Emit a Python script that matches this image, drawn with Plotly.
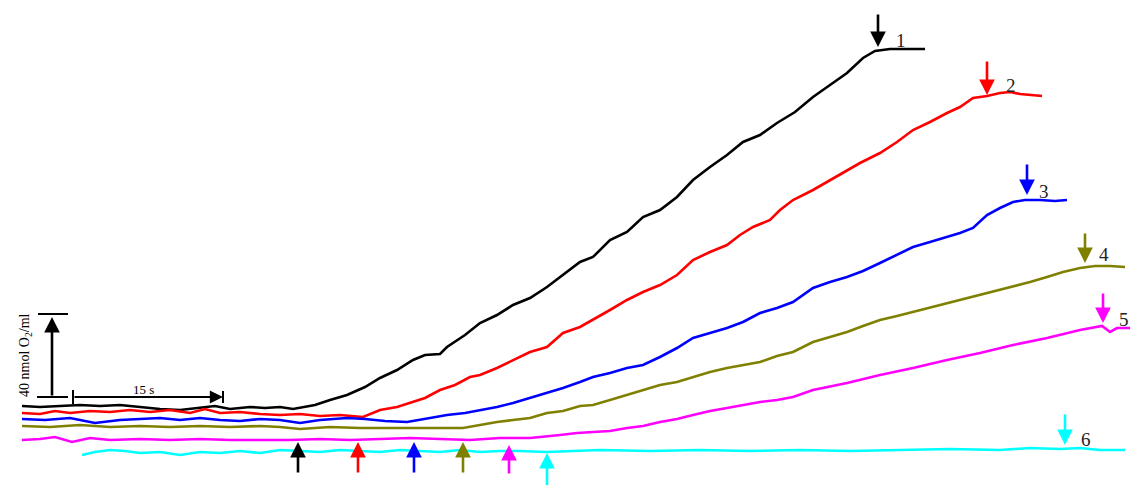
import plotly.graph_objects as go

# Oxygen evolution traces: time (s) vs O2 (nmol/ml), traces offset for clarity
t1 = [0.2, 2.0, 4.0, 6.0, 8.0, 10.0, 12.0, 14.0, 16.0, 18.0, 19.5, 21.0, 23.0, 24.5, 26.0, 27.3, 28.5,
      29.5, 31.0, 32.7, 34.5, 36.0, 37.7, 39.3, 40.5, 42.0, 42.7, 44.5, 46.0, 47.7, 49.3, 51.0, 52.7,
      54.3, 56.0, 57.3, 59.0, 60.7, 62.3, 64.0, 65.7, 67.3, 69.0, 70.7, 72.3, 74.0, 75.7, 77.5, 79.3,
      81.0, 82.7, 84.3, 85.5, 87.0, 89.0, 90.5]
o1 = [32, 31.5, 32, 32.5, 32, 32.5, 31.5, 30.5, 30, 31, 32, 30.5, 31.5, 31, 31.5, 30.5, 31.5,
      32.5, 35, 37.5, 41.5, 46, 50, 55, 57.5, 58, 61.5, 67.5, 73.5, 77.5, 82.5, 86, 91.5,
      97.5, 104, 106.5, 115, 119, 126.5, 130, 136.5, 145, 151.5, 157.5, 164, 167.5, 173.5, 179, 186.5,
      192.5, 198.5, 206, 209.5, 210.5, 210.5, 210.5]

t2 = [0.2, 2.0, 3.5, 5.0, 7.0, 9.0, 11.0, 13.0, 15.0, 17.0, 18.5, 20.0, 22.0, 24.0, 26.0, 28.0, 30.0,
      32.0, 34.3, 36.0, 37.7, 39.3, 40.5, 42.0, 43.5, 45.0, 46.0, 47.7, 49.3, 51.0, 52.7, 54.3, 56.0,
      57.3, 59.0, 60.7, 62.3, 64.0, 65.7, 67.3, 69.0, 70.7, 72.0, 73.3, 75.0, 76.0, 77.3, 79.3, 80.7,
      82.7, 84.0, 86.0, 87.7, 89.3, 91.0, 92.7, 94.0, 95.3, 96.7, 98.0, 99.0, 100.0, 101.0, 102.2]
o2 = [28.5, 28, 29.5, 28.5, 29.5, 29, 30, 29, 30, 28.5, 30.5, 28.5, 29, 28, 27.5, 28, 27,
      27.5, 26.5, 30, 31.5, 34, 36, 40, 42.5, 46.5, 47.5, 51, 55, 59, 61.5, 68.5, 71.5,
      75, 80, 85, 89, 92.5, 97.5, 105, 109, 112.5, 117.5, 121.5, 125, 130, 135, 140, 144,
      150, 153.5, 158.5, 164, 170, 174, 178.5, 181.5, 186, 187, 188.5, 189, 188, 187.5, 187]

t3 = [0.2, 2.5, 5.0, 7.5, 10.0, 12.0, 14.0, 16.0, 18.0, 20.0, 22.0, 24.0, 26.0, 28.0, 30.0, 32.7, 34.5,
      36.5, 38.7, 41.0, 42.7, 44.5, 46.0, 47.7, 49.3, 51.0, 52.7, 54.3, 56.0, 57.3, 59.0, 60.7, 62.3,
      64.0, 65.7, 67.3, 69.0, 70.7, 72.3, 74.0, 75.7, 77.3, 79.3, 81.0, 82.7, 84.3, 86.0, 87.7, 89.3,
      91.0, 92.7, 94.0, 95.3, 96.7, 98.0, 99.3, 100.5, 102.0, 103.5, 104.7]
o3 = [25.5, 25, 26, 23.5, 25, 25.5, 26, 25, 26, 25, 24.5, 25.5, 25, 23.5, 25, 26, 25.5,
      24.5, 24, 26, 27.5, 28.5, 30, 31.5, 33.5, 36, 38.5, 41, 44, 46.5, 48.5, 51, 52.5,
      56.5, 61, 66, 68.5, 71, 74, 78.5, 81, 84, 91, 94, 96.5, 99.5, 103.5, 107.5, 111.5,
      114, 116.5, 118.5, 121, 127.5, 131, 134, 135, 135, 134.5, 135]

t4 = [0.2, 3.0, 6.0, 9.0, 12.0, 15.0, 18.0, 21.0, 24.0, 26.0, 28.0, 31.0, 34.0, 38.0, 42.0, 44.3, 46.0,
      47.7, 49.3, 51.0, 52.7, 54.3, 56.0, 57.3, 59.0, 60.7, 62.3, 64.0, 65.7, 67.3, 69.0, 70.7, 72.3,
      74.0, 75.7, 77.3, 79.3, 81.0, 82.7, 84.3, 86.0, 87.7, 89.3, 91.0, 92.7, 94.3, 96.0, 97.7, 99.3,
      101.0, 102.7, 104.3, 106.0, 107.5, 109.0, 110.5]
o4 = [22, 21.5, 22.5, 21.5, 22, 21.5, 22, 21.5, 22, 21.5, 20.5, 21.5, 21, 21, 21, 21, 22.5,
      24, 25, 26, 28.5, 29.5, 32, 32.5, 35, 37.5, 40, 42.5, 44, 46.5, 49, 51, 52.5,
      54, 57, 59, 64, 66.5, 69, 72, 75, 77, 79, 81.5, 83.5, 85.5, 87.5, 89.5, 91.5,
      94, 96.5, 99, 101, 102, 102, 101.5]

t5 = [0.2, 2.0, 3.5, 4.5, 5.2, 7.0, 9.0, 12.0, 15.0, 18.0, 21.0, 24.0, 27.0, 30.0, 33.0, 36.0, 39.0,
      42.0, 45.0, 48.0, 51.0, 54.0, 55.7, 57.3, 59.0, 60.7, 62.3, 64.0, 65.7, 67.3, 69.0, 70.7, 72.3,
      74.0, 75.7, 77.3, 79.3, 82.7, 86.0, 89.3, 92.7, 96.0, 99.3, 102.7, 106.0, 108.2, 109.0, 109.7, 111.0]
o5 = [15, 15.5, 16.5, 15, 14, 16, 15, 15.5, 15, 15.5, 15, 15, 15, 15.5, 15, 15.5, 16,
      15.5, 15, 16, 16, 17.5, 18.5, 19, 19.5, 21, 22, 24, 25.5, 27.5, 29.5, 31, 32.5,
      34, 35, 36.5, 40, 43.5, 47.5, 51, 55, 58.5, 62.5, 66, 70, 72, 69, 71, 71]

t6 = [6.2, 7.5, 9.0, 10.5, 12.0, 14.0, 16.0, 18.0, 20.0, 22.0, 24.0, 26.0, 28.0, 30.0, 32.0, 34.0, 36.0,
      38.0, 40.0, 42.0, 44.0, 46.0, 48.0, 50.0, 52.6, 55.0, 58.0, 63.0, 68.0, 73.0, 78.0, 83.0, 88.0,
      93.0, 98.0, 101.0, 104.0, 106.0, 108.0, 110.5]
o6 = [7.5, 9, 10, 9.5, 8.5, 9, 7.5, 9, 8.5, 9.5, 8.5, 10, 9.5, 9, 10, 9.5, 9,
      10, 9.5, 9, 10, 9, 9.5, 9.5, 9, 9.5, 10, 9.5, 10, 9.5, 10, 9.5, 10,
      10.5, 10, 11, 10.5, 11, 10, 10]

colors = ["#000000", "#ff0000", "#0000ff", "#808000", "#ff00ff", "#00ffff"]
series_t = [t1, t2, t3, t4, t5, t6]
series_o = [o1, o2, o3, o4, o5, o6]
trace_names = ["1", "2", "3", "4", "5", "6"]

# Injection times (up arrows): time, tip and tail O2 levels
start_t = [27.8, 33.8, 39.4, 44.3, 48.9, 52.7]
start_tip = [14, 14, 14, 14, 12.5, 8.5]
start_tail = [-2, -2, -2, -2, -2.5, -9]

# End-of-reaction markers (down arrows) and trace numbers
end_t = [85.8, 96.7, 100.7, 106.5, 108.3, 104.5]
end_tip = [211.5, 187.5, 137.5, 103.5, 73.5, 12.5]
end_tail = [228.5, 205, 153.5, 119, 89, 28.5]
label_t = [88.1, 99.1, 102.4, 108.4, 110.4, 106.6]
label_o = [215, 192.5, 139.5, 108, 75.5, 15.5]

# Scale bars
bar_t = 3.2          # vertical bar position (s)
bar_o0 = 36.5        # baseline of both bars (nmol/ml)
bar_conc = 40        # nmol O2/ml
hbar_t0 = 5.3        # start of time bar (s)
hbar_span = 15       # s

fig = go.Figure()
for t, o, c, n in zip(series_t, series_o, colors, trace_names):
    fig.add_trace(go.Scatter(x=t, y=o, mode="lines", name=n,
                             line=dict(color=c, width=2.6), showlegend=False, hoverinfo="skip"))

ann = []
for t, tip, tail, c in zip(start_t, start_tip, start_tail, colors):
    ann.append(dict(x=t, y=tip, ax=t, ay=tail, xref="x", yref="y", axref="x", ayref="y",
                    text="", showarrow=True, arrowhead=2, arrowsize=1.2, arrowwidth=2.6, arrowcolor=c))
for t, tip, tail, c in zip(end_t, end_tip, end_tail, colors):
    ann.append(dict(x=t, y=tip, ax=t, ay=tail, xref="x", yref="y", axref="x", ayref="y",
                    text="", showarrow=True, arrowhead=2, arrowsize=1.2, arrowwidth=2.6, arrowcolor=c))
for t, o, n in zip(label_t, label_o, trace_names):
    ann.append(dict(x=t, y=o, xref="x", yref="y", text=n, showarrow=False,
                    font=dict(family="Liberation Serif", size=19, color="#222222")))

# vertical concentration bar
ann.append(dict(x=bar_t, y=bar_o0 + bar_conc, ax=bar_t, ay=bar_o0, xref="x", yref="y",
                axref="x", ayref="y", text="", showarrow=True, arrowhead=2, arrowsize=1.2,
                arrowwidth=2.6, arrowcolor="#000000"))
# horizontal time bar
ann.append(dict(x=hbar_t0 + hbar_span, y=bar_o0, ax=hbar_t0, ay=bar_o0, xref="x", yref="y",
                axref="x", ayref="y", text="", showarrow=True, arrowhead=2, arrowsize=1.2,
                arrowwidth=2.2, arrowcolor="#000000"))
ann.append(dict(x=hbar_t0 + hbar_span / 2 - 0.5, y=bar_o0 + 3.8, xref="x", yref="y",
                text="15 s", showarrow=False,
                font=dict(family="Liberation Serif", size=13, color="#000000")))
ann.append(dict(x=0.5, y=bar_o0 + bar_conc / 2 + 1, xref="x", yref="y", textangle=-90,
                text="40 nmol O<sub>2</sub>/ml", showarrow=False,
                font=dict(family="Liberation Serif", size=14, color="#000000")))

shapes = [
    dict(type="line", x0=bar_t - 1.4, x1=bar_t + 1.6, y0=bar_o0 + bar_conc + 1.5,
         y1=bar_o0 + bar_conc + 1.5, line=dict(color="#000000", width=2)),
    dict(type="line", x0=bar_t - 1.5, x1=bar_t + 1.6, y0=bar_o0, y1=bar_o0,
         line=dict(color="#000000", width=2)),
    dict(type="line", x0=hbar_t0, x1=hbar_t0, y0=bar_o0 - 3.5, y1=bar_o0 + 3.5,
         line=dict(color="#000000", width=2)),
    dict(type="line", x0=hbar_t0 + hbar_span, x1=hbar_t0 + hbar_span, y0=bar_o0 - 3,
         y1=bar_o0 + 3, line=dict(color="#000000", width=2)),
]

fig.update_layout(
    width=1132, height=485,
    margin=dict(l=0, r=0, t=0, b=0),
    paper_bgcolor="#ffffff", plot_bgcolor="#ffffff",
    xaxis=dict(range=[-2, 111.2], visible=False, fixedrange=True),
    yaxis=dict(range=[-7.5, 235], visible=False, fixedrange=True),
    annotations=ann, shapes=shapes,
)

fig.write_html("out.html")
